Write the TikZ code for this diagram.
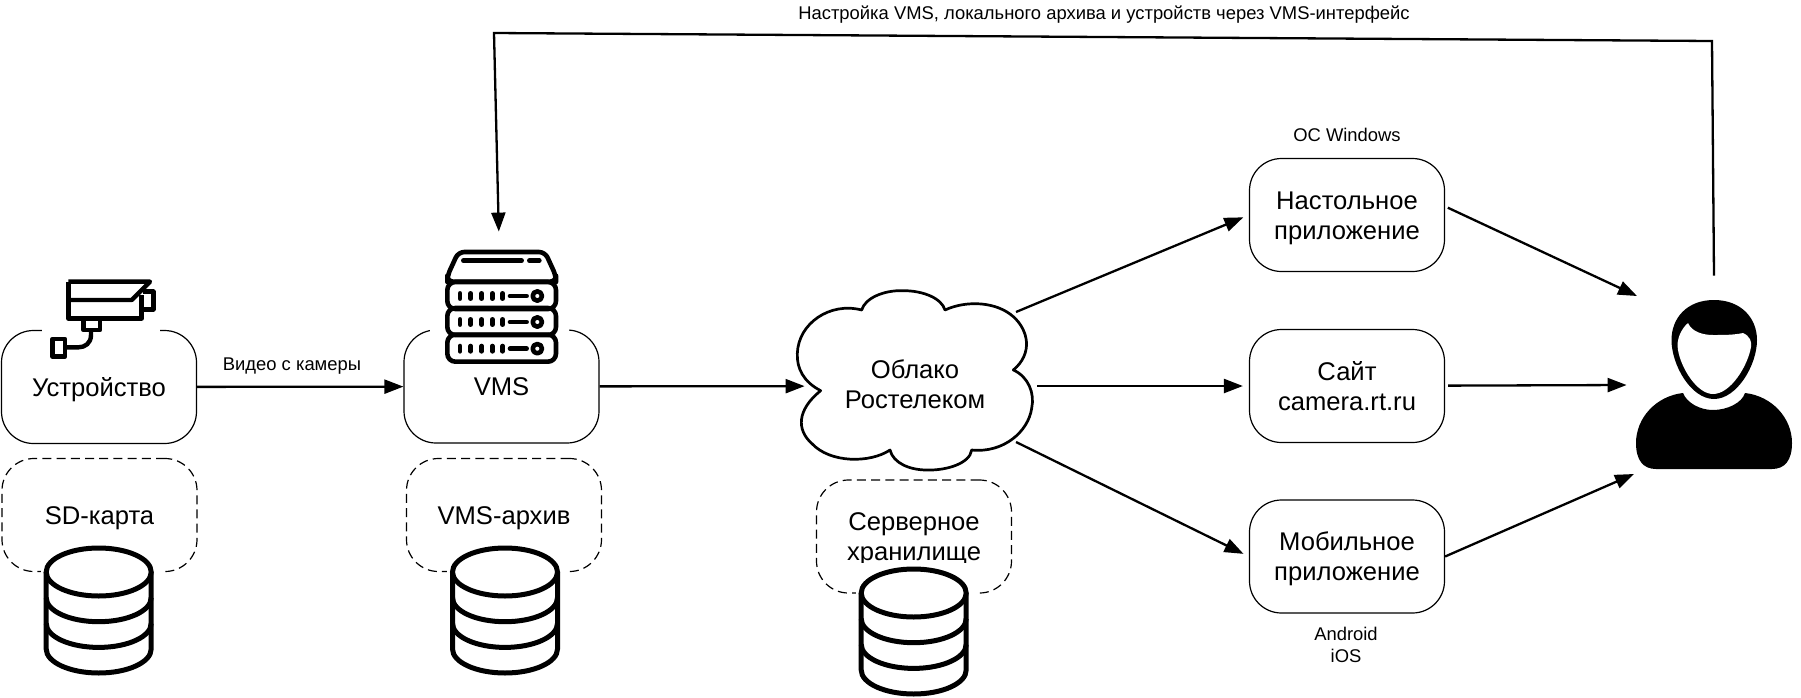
\documentclass[tikz,border=0pt]{standalone}
\usepackage{fontspec}
\setmainfont{Liberation Sans}
\usetikzlibrary{arrows.meta}
\tikzstyle{block}=[draw, line width=0.6pt, rounded corners=16pt, align=center,
minimum width=97.5pt, minimum height=56.5pt, inner sep=0pt,
font=\fontsize{12.8}{15}\selectfont, text height=11.5pt, text depth=2.4pt]
\tikzstyle{twolines}=[text height=26.5pt, text depth=2.5pt]
\tikzstyle{store}=[block, dashed, dash pattern=on 4.5pt off 2.6pt]
\tikzstyle{plain}=[inner sep=0pt, align=center, font=\fontsize{12.8}{15}\selectfont]
\tikzstyle{small}=[inner sep=0pt, align=center, font=\fontsize{9.2}{11}\selectfont]
\tikzstyle{cover}=[fill=white, inner sep=0pt]
\tikzstyle{link}=[line width=1.15pt, -{Triangle[length=9.5pt, width=7pt]}]
\tikzset{
  dbicon/.pic={
    \fill[white] (-58,-30) rectangle (62,108);
    \draw[line width=2.5pt, fill=white] (-52.5,0) -- (-52.5,77)
      arc[start angle=180, end angle=360, x radius=52.5, y radius=-24] -- (52.5,0);
    \draw[line width=2.5pt, fill=white] (0,0) ellipse [x radius=52.5, y radius=24];
    \foreach \k in {1,2}
      \draw[line width=2.5pt] (-52.5,25.7*\k)
        arc[start angle=180, end angle=360, x radius=52.5, y radius=-24];
  }
}
\begin{document}
\begin{tikzpicture}[x=0.5pt, y=-0.5pt]
	\useasboundingbox (0,0) rectangle (1801,697);
	% boxes
	\node[block] (device) at (99,387) {Устройство};
	\node[block] (vms) at (501.5,386.5) {VMS};
	\node[store] (sdcard) at (99.5,515) {SD-карта};
	\node[store] (vmsarchive) at (504,515) {VMS-архив};
	\node[store, twolines] (serverstore) at (914,536.5) {Серверное\\хранилище};
	\node[block, twolines] (desktop) at (1347,215) {Настольное\\приложение};
	\node[block, twolines] (site) at (1347,386) {Сайт\\camera.rt.ru};
	\node[block, twolines] (mobile) at (1347,556.5) {Мобильное\\приложение};

	% camera
	\node[cover, minimum width=59pt, minimum height=45pt] (camera) at (101,315) {};
	\begin{scope}[shift={(30,270)}, scale=1/3, line width=2.2pt, line join=round]
		\draw (115,35) -- (360,35) -- (305,90) -- (115,90);
		\draw (115,35) -- (115,145) -- (335,145) -- (335,75);
		\draw (338,65) -- (370,65) -- (370,118) -- (338,118);
		\draw (160,148) -- (160,180) -- (210,180) -- (210,148);
		\draw (183,180) -- (183,195) .. controls (183,220) and (165,232) .. (145,232) -- (105,232);
		\draw (68,207) rectangle (105,260);
	\end{scope}

	% server
	\node[cover, minimum width=69.5pt, minimum height=64pt] (server) at (499,304) {};
	\begin{scope}[shift={(430,240)}, scale=1/3, line join=round, line width=2.3pt]
		\draw[rounded corners=3pt] (52,125) -- (52,108) -- (85,36)
			-- (345,36) -- (378,108) -- (378,125) -- cycle;
		\draw[line cap=round] (100,62) -- (275,62);
		\draw[line cap=round] (298,62) -- (328,62);
		\foreach \k in {168,246,326} {
			\draw[rounded corners=4pt] (52,\k-42) rectangle (378,\k+39);
			\foreach \j in {90,122,155,187,218}
				\draw[line cap=round] (\j,\k-8) -- (\j,\k+8);
			\draw[line cap=round] (240,\k) -- (290,\k);
			\draw (322,\k) circle (14);
		}
	\end{scope}

	% databases
	\pic (dbsd) at (98.7,572) {dbicon};
	\pic (dbvms) at (505,572) {dbicon};
	\pic (dbserver) at (913.7,593) {dbicon};

	% cloud
	\begin{scope}[shift={(780,260)}, scale=1/3]
		\draw[line width=1.35pt, line join=round] (122,392)
			.. controls (70,365) and (50,325) .. (52,280)
			.. controls (55,190) and (150,125) .. (245,150)
			.. controls (255,115) and (310,90) .. (370,92)
			.. controls (430,92) and (485,115) .. (495,150)
			.. controls (560,120) and (650,125) .. (700,170)
			.. controls (745,210) and (760,280) .. (700,330)
			.. controls (745,350) and (765,400) .. (755,445)
			.. controls (745,515) and (670,580) .. (575,570)
			.. controls (570,610) and (500,632) .. (440,630)
			.. controls (390,630) and (340,610) .. (330,570)
			.. controls (270,610) and (150,610) .. (95,550)
			.. controls (50,510) and (50,450) .. (122,392) -- cycle;
	\end{scope}
	\node[plain, text height=24.5pt, text depth=2.5pt, minimum width=110pt, minimum height=85pt] (cloud) at (915,386) {Облако\\Ростелеком};

	% user
	\node[inner sep=0pt, minimum width=87pt, minimum height=109pt] (user) at (1714,385) {};
	\fill (1714,300) .. controls (1741,300) and (1757,318) .. (1757,340)
		.. controls (1757,365) and (1737,399) .. (1714,399)
		.. controls (1691,399) and (1671.5,365) .. (1671.5,340)
		.. controls (1671.5,318) and (1687,300) .. (1714,300) -- cycle;
	\fill[white] (1688,323) .. controls (1692,332) and (1703,335) .. (1713,335)
		.. controls (1724,335) and (1734,335) .. (1743,333)
		.. controls (1750,336) and (1752,342) .. (1751,347)
		.. controls (1748,365) and (1731,394) .. (1713,394)
		.. controls (1697,394) and (1681,368) .. (1678,350)
		.. controls (1676,340) and (1681,329) .. (1688,323) -- cycle;
	\fill (1683,393) .. controls (1687,403) and (1700,410) .. (1713,410)
		.. controls (1727,410) and (1742,403) .. (1745,393)
		.. controls (1772,396) and (1792,418) .. (1792,443)
		.. controls (1792,460) and (1785,469) .. (1772,469)
		-- (1656,469) .. controls (1643,469) and (1636,460) .. (1636,443)
		.. controls (1636,418) and (1656,396) .. (1683,393) -- cycle;

	% free ends
	\coordinate (cloudup) at (1016,312);
	\coordinate (clouddown) at (1016,442);
	\coordinate (userup) at (1637,296);
	\coordinate (userdown) at (1634,474);
	\coordinate (topright) at (1712,41);
	\coordinate (topleft) at (494,33);

	% labels
	\node[small] (videolabel) at (292,366) {Видео с камеры};
	\node[small] (toplabel) at (1104,15) {Настройка VMS, локального архива и устройств через VMS-интерфейс};
	\node[small] (oslabel) at (1347,135) {ОС Windows};
	\node[small] (mobilelabel) at (1346,645) {Android\\iOS};

	\draw[link] (device) to (vms);
	\draw[link] (vms) to (cloud);
	\draw[link, shorten <=6pt, shorten >=3pt] (cloud) to (site);
	\draw[link, shorten >=3pt] (cloudup) to (desktop.west);
	\draw[link, shorten >=3pt] (clouddown) to (mobile.west);
	\draw[link, shorten <=1.5pt] (desktop.5) to (userup);
	\draw[link, shorten <=1.5pt] (site) to (user.west);
	\draw[link] (mobile.east) to (userdown);
	\draw[link, shorten >=4pt] (user.north) -- (topright) -- (topleft) -- (server.north);
\end{tikzpicture}
\end{document}
